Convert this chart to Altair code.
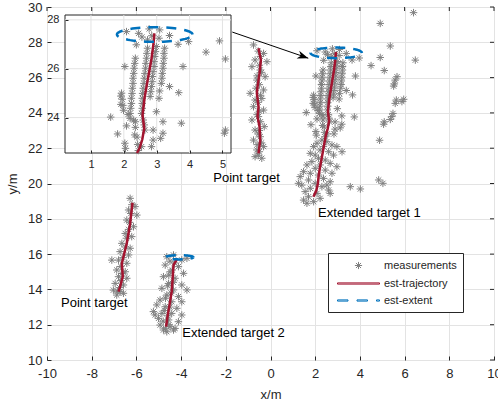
import altair as alt
import pandas as pd
import numpy as np

GRAY, RED, BLUE, AX = "#808080", "#A2142F", "#0072BD", "#262626"
FONT = "Liberation Sans"
SERIES = ["measurements", "est-trajectory", "est-extent"]
AST = "M-0.6,0L0.6,0M0,-0.6L0,0.6M-0.42,-0.42L0.42,0.42M-0.42,0.42L0.42,-0.42"
LEG_SOLID = "M-3.5,-0.1L3.5,-0.1L3.5,0.1L-3.5,0.1Z"
LEG_DASH = ("M-3.5,-0.1L-1.75,-0.1L-1.75,0.1L-3.5,0.1Z"
            "M-0.25,-0.1L1.5,-0.1L1.5,0.1L-0.25,0.1Z"
            "M3.0,-0.1L3.5,-0.1L3.5,0.1L3.0,0.1Z")
ARROW = "M0,0L-2,-0.75L-1.4,0L-2,0.75Z"

# ---------------- data ----------------
meas_ext1 = [
    (2.08, 27.52), (2.45, 27.45), (2.38, 26.98), (2.77, 27.63), (2.72, 27.18), (3.09, 27.59),
    (3.07, 27.25), (3.39, 27.36), (3.65, 27.00), (3.97, 27.11), (2.55, 27.30), (2.85, 27.35),
    (4.91, 27.14), (4.50, 26.68), (5.09, 26.40), (2.03, 26.09), (3.80, 26.09), (3.39, 25.27),
    (3.67, 25.02), (1.91, 24.88), (1.91, 24.54), (1.60, 24.02), (2.13, 24.13), (2.35, 23.83),
    (2.08, 23.66), (1.81, 23.33), (2.33, 23.29), (2.03, 22.95), (2.05, 22.74), (2.89, 23.49),
    (3.19, 23.83), (3.19, 23.36), (3.12, 23.15), (3.75, 23.77), (2.99, 24.24), (3.09, 25.09),
    (3.07, 24.79), (5.09, 23.49), (5.06, 23.36), (2.54, 22.81), (2.89, 23.08), (2.84, 22.81),
    (2.35, 26.43), (2.33, 26.22), (2.31, 26.02), (2.30, 25.81), (2.28, 25.61), (2.28, 25.40),
    (2.26, 25.20), (2.25, 24.99), (2.23, 24.79), (2.23, 24.58), (2.21, 24.38), (2.19, 24.17),
    (2.19, 23.97),
    (2.72, 26.84), (2.70, 26.63), (2.69, 26.43), (2.67, 26.22), (2.66, 26.02), (2.64, 25.81),
    (2.62, 25.61), (2.61, 25.40), (2.59, 25.20), (2.57, 24.99), (2.56, 24.79), (2.56, 24.58),
    (2.56, 24.38), (2.54, 24.17), (2.59, 23.90), (2.62, 23.70), (2.64, 23.49),
    (2.99, 26.91), (2.96, 26.70), (2.94, 26.50), (2.92, 26.29), (2.92, 26.09), (2.89, 25.88),
    (2.87, 25.68), (2.86, 25.47), (2.84, 25.27), (2.82, 25.06), (2.80, 24.86),
    (3.24, 26.84), (3.22, 26.63), (3.22, 26.43), (3.20, 26.22), (3.19, 26.02), (3.17, 25.81),
    (3.16, 25.61), (3.14, 25.40),
    (1.93, 25.00), (1.95, 24.75), (1.97, 24.50), (1.99, 24.30),
    (2.30, 23.90), (2.35, 23.60), (2.40, 23.20), (2.42, 22.90), (2.44, 22.65),
    (2.30, 22.46), (2.52, 22.37), (2.08, 22.28), (2.75, 22.18), (1.93, 22.09), (2.37, 22.09),
    (2.97, 22.09), (2.22, 21.90), (2.60, 21.80), (1.78, 21.71), (2.00, 21.61), (2.82, 21.61),
    (3.20, 21.80), (2.15, 21.43), (2.45, 21.33), (1.85, 21.24), (2.67, 21.14), (1.63, 21.05),
    (2.22, 21.05), (2.97, 20.95), (2.00, 20.86), (2.45, 20.76), (1.48, 20.67), (1.78, 20.58),
    (2.75, 20.58), (2.15, 20.48), (1.33, 20.39), (2.37, 20.29), (1.70, 20.20), (2.67, 20.10),
    (2.00, 20.01), (1.40, 19.91), (2.30, 19.82), (1.78, 19.73), (2.60, 19.63), (1.55, 19.54),
    (2.08, 19.44), (2.67, 19.44), (1.70, 19.25), (2.22, 19.16), (1.48, 19.06), (1.93, 18.97),
    (1.63, 18.88), (2.52, 19.91), (1.25, 20.01),
    (6.40, 29.68), (4.91, 29.07), (5.36, 27.79), (6.48, 26.99), (5.66, 26.05), (5.58, 25.86),
    (5.54, 25.64), (5.51, 25.52), (5.63, 24.73), (5.58, 24.54), (5.96, 24.77), (5.88, 24.64),
    (5.48, 23.97), (5.43, 23.79), (5.36, 23.63), (4.88, 22.45), (4.84, 20.20), (5.03, 20.01),
    (3.57, 19.82), (4.02, 19.69),
]
meas_pt1 = [
    (-0.76, 27.85), (-0.31, 27.37), (-0.69, 27.00), (-0.16, 26.90), (-0.83, 26.62), (-0.46, 26.43),
    (-0.24, 26.05), (-0.61, 25.86), (-0.91, 25.11), (-0.31, 25.30), (-0.69, 24.73), (-0.39, 24.82),
    (-0.76, 24.35), (-0.31, 24.16), (-0.54, 23.79), (-0.83, 23.60), (-0.28, 23.22), (-0.69, 23.03),
    (-0.46, 22.65), (-0.76, 22.46), (-0.31, 22.09), (-0.61, 21.90), (-0.69, 21.52), (-0.39, 21.43),
    (-0.55, 27.50), (-0.45, 27.20), (-0.50, 26.70), (-0.40, 26.30), (-0.60, 26.10), (-0.50, 25.60),
    (-0.65, 25.40), (-0.45, 25.00), (-0.55, 24.60), (-0.50, 24.10), (-0.60, 23.90), (-0.45, 23.50),
    (-0.50, 23.00), (-0.55, 22.80), (-0.40, 22.30), (-0.60, 22.20), (-0.50, 21.80), (-0.55, 21.60),
]
meas_pt2 = [
    (-6.28, 19.16), (-6.06, 18.69), (-6.35, 18.50), (-5.98, 18.21), (-6.43, 17.93), (-6.13, 17.55),
    (-6.50, 17.17), (-6.21, 16.99), (-6.65, 16.61), (-6.28, 16.33), (-6.73, 16.14), (-6.35, 15.95),
    (-7.10, 15.66), (-6.80, 15.66), (-6.43, 15.48), (-6.88, 15.10), (-6.50, 15.00), (-6.80, 14.72),
    (-6.43, 14.63), (-6.95, 14.34), (-6.58, 14.25), (-7.03, 13.96), (-6.73, 13.87), (-6.88, 13.68),
    (-6.58, 13.78), (-6.20, 18.80), (-6.25, 18.30), (-6.30, 17.80), (-6.35, 17.40), (-6.45, 16.90),
    (-6.50, 16.40), (-6.60, 15.80), (-6.70, 15.30), (-6.65, 14.90), (-6.70, 14.50), (-6.75, 14.10),
    (-6.85, 13.90),
]
meas_ext2 = [
    (-4.64, 15.85), (-4.34, 15.95), (-3.97, 15.67), (-3.74, 15.76), (-4.71, 15.38), (-4.12, 15.29),
    (-4.49, 15.00), (-3.89, 14.91), (-4.79, 14.72), (-4.27, 14.63), (-4.56, 14.34), (-3.97, 14.25),
    (-4.86, 14.06), (-4.34, 13.97), (-3.74, 13.97), (-4.64, 13.68), (-4.12, 13.59), (-4.94, 13.40),
    (-4.42, 13.30), (-3.97, 13.30), (-5.09, 13.12), (-4.71, 13.02), (-4.19, 12.93), (-5.24, 12.74),
    (-4.86, 12.64), (-4.42, 12.64), (-3.97, 12.55), (-5.01, 12.36), (-4.56, 12.27), (-4.12, 12.17),
    (-4.94, 11.98), (-4.49, 11.89), (-4.79, 11.70), (-4.34, 11.70), (-5.16, 12.55), (-4.27, 11.79),
    (-4.64, 11.60), (-4.30, 15.50), (-4.50, 15.60), (-4.40, 15.10), (-4.55, 14.80), (-4.35, 14.40),
    (-4.60, 14.20), (-4.45, 13.80), (-4.70, 13.50), (-4.50, 13.00), (-4.75, 12.80), (-4.60, 12.50),
    (-4.80, 12.20), (-4.55, 12.00), (-4.70, 11.80),
]

traj_ext1 = [(1.92, 19.25), (2.05, 19.60), (2.12, 20.00), (2.16, 20.50), (2.22, 20.95), (2.30, 21.50),
             (2.40, 22.20), (2.48, 22.75), (2.56, 23.10), (2.62, 23.55), (2.57, 24.10), (2.63, 24.80),
             (2.72, 25.50), (2.84, 26.40), (2.90, 27.00), (2.93, 27.45)]
traj_pt1 = [(-0.535, 21.71), (-0.46, 22.46), (-0.49, 23.22), (-0.58, 23.79), (-0.535, 24.35),
            (-0.61, 25.11), (-0.58, 25.49), (-0.49, 26.24), (-0.43, 27.00), (-0.535, 27.66)]
traj_pt2 = [(-6.80, 13.87), (-6.73, 14.15), (-6.61, 14.72), (-6.65, 15.48), (-6.55, 16.00),
            (-6.43, 16.61), (-6.35, 17.20), (-6.28, 17.74), (-6.175, 18.91)]
traj_ext2 = [(-4.67, 11.89), (-4.61, 12.45), (-4.52, 13.12), (-4.42, 13.87), (-4.38, 14.60),
             (-4.34, 15.38), (-4.16, 15.76)]

# extent ellipses: centre x, centre y, semi-axis x, semi-axis y
ext1_ellipse = (2.94, 27.40, 1.15, 0.30)
ext2_ellipse = (-4.07, 15.82, 0.62, 0.12)

annot_text = ["Point target", "Extended target 1", "Point target", "Extended target 2"]
annot_x = [-2.56, 2.13, -9.37, -3.95]
annot_y = [20.31, 18.33, 13.25, 11.55]

arrow_from = (-1.71, 28.58)
arrow_to = (1.69, 27.10)

x_ticks = list(range(-10, 11, 2))
y_ticks = list(range(10, 31, 2))
inset_x_ticks = [1, 2, 3, 4, 5]
inset_y_ticks = [24, 26, 28]
inset_xdom = [0.21, 5.26]
inset_ydom = [22.55, 28.2]

# ---------------- frames ----------------
meas = pd.DataFrame(meas_ext1 + meas_pt1 + meas_pt2 + meas_ext2, columns=["x", "y"])
meas["series"] = "measurements"

rows = []
for name, tr in [("t1", traj_ext1), ("t2", traj_pt1), ("t3", traj_pt2), ("t4", traj_ext2)]:
    for i, (x, y) in enumerate(tr):
        rows.append(dict(x=x, y=y, i=i, track=name, series="est-trajectory"))
traj = pd.DataFrame(rows)
rows = []
th = np.linspace(0, 2 * np.pi, 81)
for name, (cx, cy, a, b) in [("e1", ext1_ellipse), ("e2", ext2_ellipse)]:
    for i, t in enumerate(th):
        rows.append(dict(x=cx + a * np.cos(t), y=cy + b * np.sin(t), i=i, track=name, series="est-extent"))
ell = pd.DataFrame(rows)

annot = pd.DataFrame(dict(label=annot_text, x=annot_x, y=annot_y))
arrow = pd.DataFrame([dict(x0=arrow_from[0], y0=arrow_from[1], x1=arrow_to[0], y1=arrow_to[1])])
top_ticks = pd.DataFrame(dict(x=x_ticks, y=30))
right_ticks = pd.DataFrame(dict(y=y_ticks, x=10))

# ---------------- main panel ----------------
xs = alt.Scale(domain=[-10, 10], nice=False, zero=False)
ys = alt.Scale(domain=[10, 30], nice=False, zero=False)
x_axis = alt.Axis(values=x_ticks, title="x/m", grid=True, gridColor="#e3e3e3", domain=False,
                  tickSize=4, tickColor=AX, offset=-4, labelPadding=7, labelFontSize=13,
                  labelColor=AX, labelFont=FONT, titleFont=FONT, titleFontSize=13,
                  titleFontWeight="normal", titleColor=AX, titlePadding=8,
                  labelFlush=False, labelOverlap=False, labelExpr="toString(datum.value)")
y_axis = alt.Axis(values=y_ticks, title="y/m", grid=True, gridColor="#e3e3e3", domain=False,
                  tickSize=4, tickColor=AX, offset=-4, labelPadding=5, labelFontSize=13,
                  labelColor=AX, labelFont=FONT, titleFont=FONT, titleFontSize=13,
                  titleFontWeight="normal", titleColor=AX, titlePadding=8,
                  labelFlush=False, labelOverlap=False, labelExpr="toString(datum.value)")

leg = alt.Legend(orient="none", legendX=281, legendY=246, title=None, direction="vertical",
                 strokeColor=AX, fillColor="white", padding=6, labelFontSize=11, labelFont=FONT,
                 labelColor=AX, symbolSize=144, symbolStrokeWidth=1, rowPadding=5,
                 labelOffset=19, symbolOffset=18)
cs = alt.Scale(domain=SERIES, range=[GRAY, RED, BLUE])
ss = alt.Scale(domain=SERIES, range=[AST, LEG_SOLID, LEG_DASH])

X = alt.X("x:Q", scale=xs, axis=x_axis)
Y = alt.Y("y:Q", scale=ys, axis=y_axis)

pts = alt.Chart(meas).mark_point(filled=False, size=156, strokeWidth=1, opacity=1).encode(
    x=X, y=Y,
    color=alt.Color("series:N", scale=cs, legend=leg),
    shape=alt.Shape("series:N", scale=ss, legend=leg),
)
trl = alt.Chart(traj).mark_line(strokeWidth=2.5, color=RED).encode(
    x=X, y=Y, order="i:Q", detail="track:N")
ell_l = alt.Chart(ell).mark_line(strokeWidth=2.5, color=BLUE, strokeDash=[10, 8]).encode(
    x=X, y=Y, order="i:Q", detail="track:N")
txt = alt.Chart(annot).mark_text(align="left", baseline="middle", fontSize=13, font=FONT,
                                  color="black").encode(x=X, y=Y, text="label:N")
arr = alt.Chart(arrow).mark_rule(color="black", strokeWidth=1).encode(
    x=alt.X("x0:Q", scale=xs, axis=x_axis), y=alt.Y("y0:Q", scale=ys, axis=y_axis),
    x2="x1:Q", y2="y1:Q")
head = alt.Chart(arrow).mark_point(shape=ARROW, filled=True, color="black", size=121,
                                   angle=19, opacity=1, strokeWidth=0).encode(
    x=alt.X("x1:Q", scale=xs, axis=x_axis), y=alt.Y("y1:Q", scale=ys, axis=y_axis))
tt = alt.Chart(top_ticks).mark_tick(orient="vertical", size=4, thickness=1, yOffset=2,
                                    color=AX, opacity=1).encode(x=X, y=Y)
rt = alt.Chart(right_ticks).mark_tick(orient="horizontal", size=4, thickness=1, xOffset=-2,
                                      color=AX, opacity=1).encode(x=X, y=Y)

main = alt.layer(pts, trl, ell_l, txt, arr, head, tt, rt)

# ---------------- inset panel ----------------
xi = alt.Scale(domain=inset_xdom, range=[18, 184], clamp=True, nice=False, zero=False)
yi = alt.Scale(domain=inset_ydom, range=[146, 8], clamp=True, nice=False, zero=False)
xi_axis = alt.Axis(orient="bottom", offset=-210, values=inset_x_ticks, grid=False, domain=False,
                   tickSize=3, tickColor=AX, labelPadding=5, labelFontSize=11, labelColor=AX,
                   labelFont=FONT, title=None, zindex=1, labelFlush=False, labelOverlap=False)
yi_axis = alt.Axis(orient="left", offset=-21, values=inset_y_ticks, grid=False, domain=False,
                   tickSize=3, tickColor=AX, labelPadding=6, labelFontSize=11, labelColor=AX,
                   labelFont=FONT, title=None, zindex=1, labelFlush=False, labelOverlap=False)

box = pd.DataFrame([dict(x0=inset_xdom[0], x1=inset_xdom[1], y0=inset_ydom[0], y1=inset_ydom[1])])
gx = pd.DataFrame(dict(gx=inset_x_ticks, y0=inset_ydom[0], y1=inset_ydom[1]))
gy = pd.DataFrame(dict(gy=inset_y_ticks, x0=inset_xdom[0], x1=inset_xdom[1]))

XI = lambda f: alt.X(f, scale=xi, axis=xi_axis)
YI = lambda f: alt.Y(f, scale=yi, axis=yi_axis)

bg = alt.Chart(box).mark_rect(fill="white", stroke=AX, strokeWidth=1).encode(
    x=XI("x0:Q"), x2="x1:Q", y=YI("y0:Q"), y2="y1:Q")
gxl = alt.Chart(gx).mark_rule(color="#e3e3e3", strokeWidth=1).encode(
    x=XI("gx:Q"), y=YI("y0:Q"), y2="y1:Q")
gyl = alt.Chart(gy).mark_rule(color="#e3e3e3", strokeWidth=1).encode(
    y=YI("gy:Q"), x=XI("x0:Q"), x2="x1:Q")
ipts = alt.Chart(meas).transform_filter(
    (alt.datum.x >= inset_xdom[0]) & (alt.datum.x <= inset_xdom[1]) &
    (alt.datum.y >= inset_ydom[0]) & (alt.datum.y <= inset_ydom[1])
).mark_point(filled=False, size=156, strokeWidth=1, opacity=1, color=GRAY, shape=AST).encode(
    x=XI("x:Q"), y=YI("y:Q"))
itraj = alt.Chart(traj).transform_filter(
    (alt.datum.track == "t1") & (alt.datum.y >= 22.2)
).mark_line(strokeWidth=2.5, color=RED).encode(x=XI("x:Q"), y=YI("y:Q"), order="i:Q")
iell = alt.Chart(ell).transform_filter(alt.datum.track == "e1").mark_line(
    strokeWidth=2.5, color=BLUE, strokeDash=[10, 8]).encode(x=XI("x:Q"), y=YI("y:Q"), order="i:Q")

inset = alt.layer(bg, gxl, gyl, ipts, itraj, iell)

chart = alt.layer(main, inset).resolve_scale(x="independent", y="independent").properties(
    width=447, height=353,
    padding={"left": 47, "top": 7, "right": 4, "bottom": 49},
    autosize=alt.AutoSizeParams(type="none"),
    background="white",
).configure_view(stroke=AX, strokeWidth=1).configure(font=FONT)

chart.save("out.html", embed_options={"renderer": "svg", "actions": False})
